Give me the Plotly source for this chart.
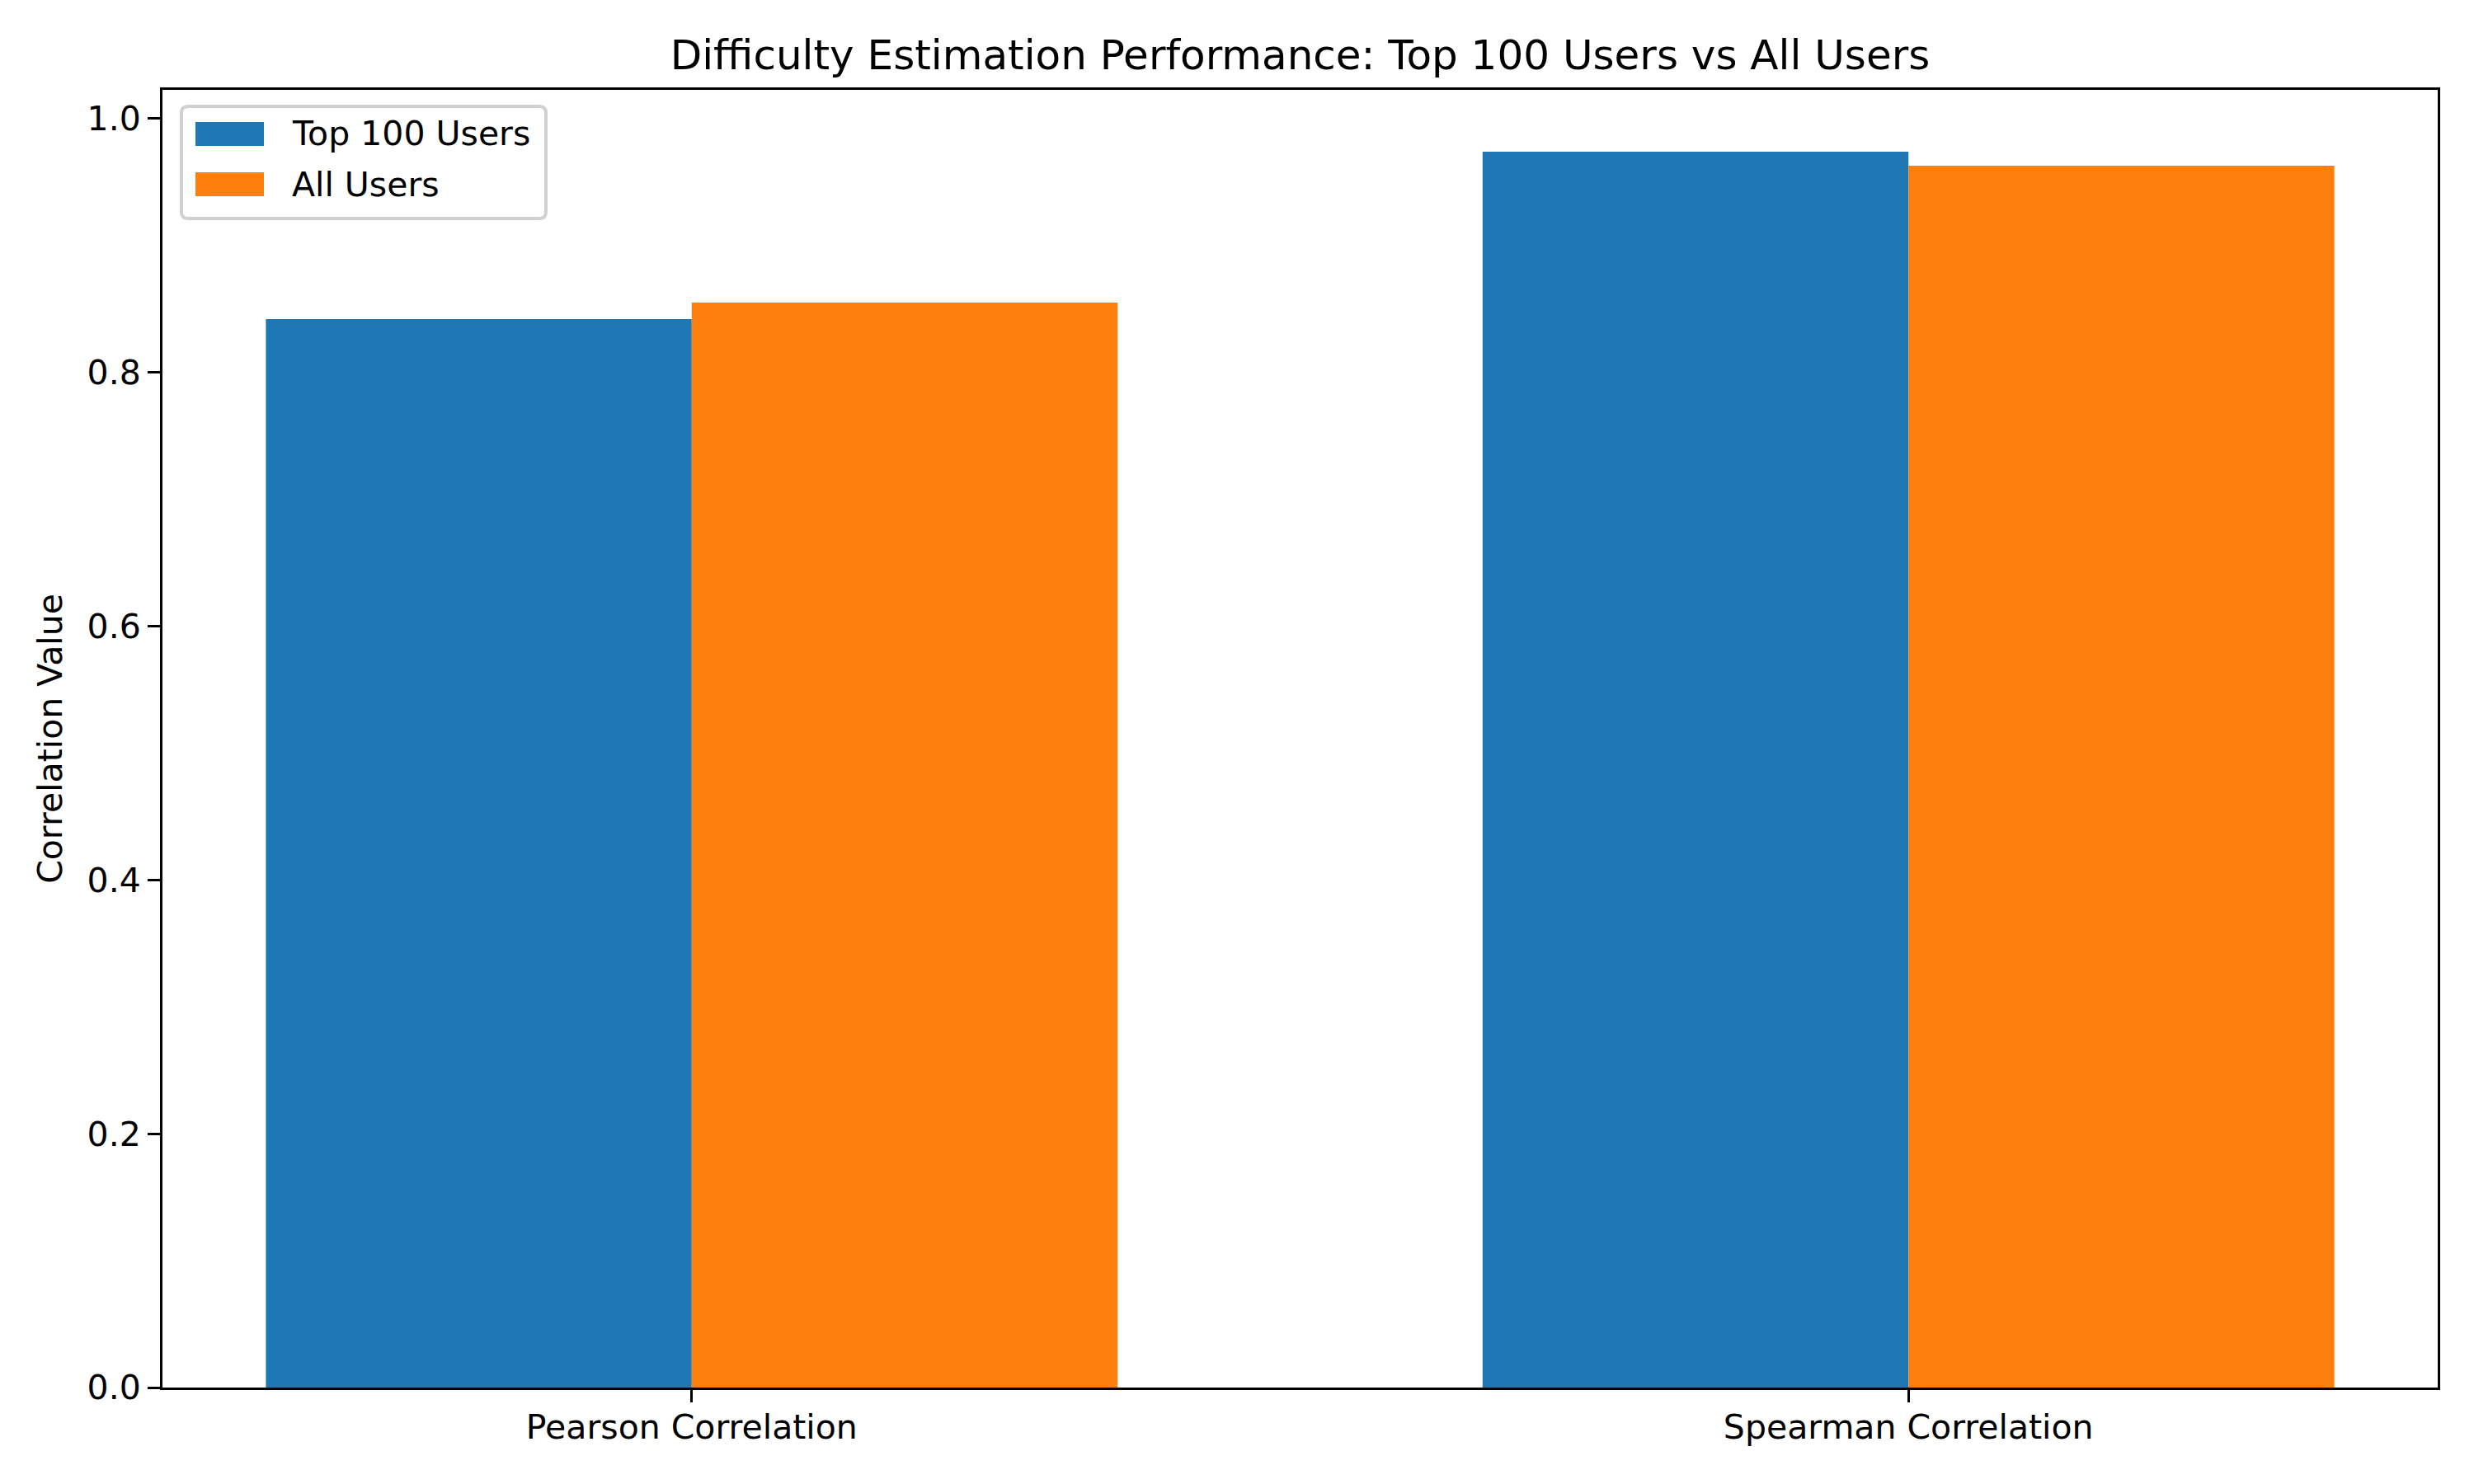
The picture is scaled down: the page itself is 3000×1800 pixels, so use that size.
import plotly.graph_objects as go

categories = ["Pearson Correlation", "Spearman Correlation"]
series_names = ["Top 100 Users", "All Users"]
top100_values = [0.842, 0.974]
all_values = [0.855, 0.963]
colors = ["#1f77b4", "#ff7f0e"]
y_ticks = [0.0, 0.2, 0.4, 0.6, 0.8, 1.0]

FONT = "DejaVu Sans"
W, H = 3000, 1800
L, R, T, B = 197, 44, 109, 117
PW, PH = W - L - R, H - T - B
bar_w = 0.35
xpos = list(range(len(categories)))

fig = go.Figure()
for name, vals, col, off in zip(series_names, [top100_values, all_values], colors, [-bar_w, 0.0]):
    fig.add_trace(go.Bar(
        x=xpos, y=vals, name=name, width=bar_w, offset=off,
        marker=dict(color=col, line=dict(width=0)), showlegend=False,
    ))

ymax = max(top100_values + all_values) * 1.05
xmin, xmax = -bar_w, len(categories) - 1 + bar_w
mx = (xmax - xmin) * 0.05


def px_to_paper(px, py):
    return (px - L) / PW, (H - B - py) / PH


def rounded_rect_path(x0, y0, x1, y1, r):
    # pixel coordinates -> paper path with rounded corners
    pts = []
    def p(x, y):
        a, b = px_to_paper(x, y)
        return f"{a:.6f},{b:.6f}"
    return (f"M{p(x0 + r, y0)} L{p(x1 - r, y0)} Q{p(x1, y0)} {p(x1, y0 + r)} "
            f"L{p(x1, y1 - r)} Q{p(x1, y1)} {p(x1 - r, y1)} L{p(x0 + r, y1)} "
            f"Q{p(x0, y1)} {p(x0, y1 - r)} L{p(x0, y0 + r)} Q{p(x0, y0)} {p(x0 + r, y0)} Z")


# Custom legend (matplotlib-style)
shapes = []
annotations = []
shapes.append(dict(type="path", xref="paper", yref="paper", path=rounded_rect_path(220, 129, 662, 265, 8),
                   line=dict(color="rgba(204,204,204,0.9)", width=4), fillcolor="rgba(255,255,255,0.8)", layer="above"))
rows = [(148, 177), (209, 238)]
for (ya, yb), name, col in zip(rows, series_names, colors):
    sx0, sy0 = px_to_paper(237, ya)
    sx1, sy1 = px_to_paper(320, yb)
    shapes.append(dict(type="rect", xref="paper", yref="paper", x0=sx0, x1=sx1, y0=sy1, y1=sy0,
                       line=dict(width=0), fillcolor=col, layer="above"))
    tx, ty = px_to_paper(352, (ya + yb) / 2)
    annotations.append(dict(xref="paper", yref="paper", x=tx, y=ty, text=name, showarrow=False,
                            xanchor="left", yanchor="middle", font=dict(family=FONT, size=41, color="black")))

fig.update_layout(
    width=W, height=H,
    margin=dict(l=L, r=R, t=T, b=B, pad=0),
    paper_bgcolor="white", plot_bgcolor="white",
    font=dict(family=FONT, size=41, color="black"),
    title=dict(text="Difficulty Estimation Performance: Top 100 Users vs All Users",
               x=0.5, xref="paper", xanchor="center", y=1, yref="paper", yanchor="bottom",
               pad=dict(b=25), font=dict(family=FONT, size=50, color="black")),
    barmode="overlay",
    shapes=shapes,
    annotations=annotations,
    xaxis=dict(range=[xmin - mx, xmax + mx], tickmode="array", tickvals=xpos, ticktext=categories,
               showgrid=False, zeroline=False, showline=True, linecolor="black", linewidth=3, mirror=True,
               ticks="outside", ticklen=15, tickwidth=3, tickcolor="black", ticklabelstandoff=-5,
               tickfont=dict(family=FONT, size=41, color="black")),
    yaxis=dict(range=[0, ymax], tickmode="array", tickvals=y_ticks, ticktext=[f"{v:.1f}" for v in y_ticks],
               showgrid=False, zeroline=False, showline=True, linecolor="black", linewidth=3, mirror=True,
               ticks="outside", ticklen=15, tickwidth=3, tickcolor="black",
               tickfont=dict(family=FONT, size=41, color="black"),
               title=dict(text="Correlation Value", standoff=18, font=dict(family=FONT, size=41, color="black"))),
)

fig.write_html("out.html")
